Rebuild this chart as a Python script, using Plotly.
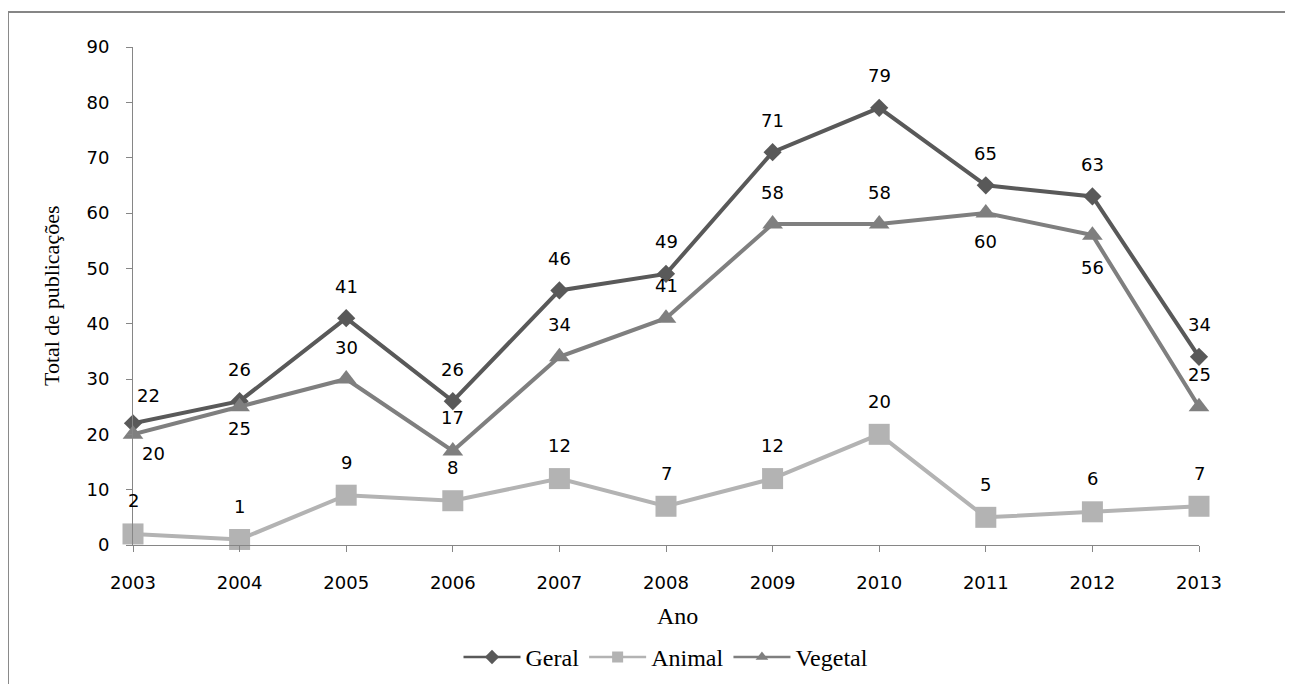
import plotly.graph_objects as go

years = [2003, 2004, 2005, 2006, 2007, 2008, 2009, 2010, 2011, 2012, 2013]
geral = [22, 26, 41, 26, 46, 49, 71, 79, 65, 63, 34]
animal = [2, 1, 9, 8, 12, 7, 12, 20, 5, 6, 7]
vegetal = [20, 25, 30, 17, 34, 41, 58, 58, 60, 56, 25]
y_ticks = [0, 10, 20, 30, 40, 50, 60, 70, 80, 90]

SANS = "DejaVu Sans"
SERIF = "Liberation Serif"

series = [
    ("Geral", geral, "#595959", "diamond", 14),
    ("Animal", animal, "#b3b3b3", "square", 21),
    ("Vegetal", vegetal, "#7f7f7f", "triangle-up", 18),
]

fig = go.Figure()
for name, vals, col, sym, sz in series:
    fig.add_trace(go.Scatter(
        x=years, y=vals, mode="lines+markers", name=name,
        line=dict(color=col, width=4),
        marker=dict(symbol=sym, size=sz, color=col),
        cliponaxis=False, showlegend=False, hoverinfo="x+y+name"))
# legend-only entries with smaller markers
for name, vals, col, sym, sz in series:
    fig.add_trace(go.Scatter(
        x=[None], y=[None], mode="lines+markers", name=name,
        line=dict(color=col, width=2.5),
        marker=dict(symbol=sym, size=11, color=col),
        showlegend=True))

# label placement (pixel offsets): above / below, per point
geral_shift = [(15, 28)] + [(0, 32)] * 10
animal_shift = [(0, 33)] * 11
vegetal_shift = [(20, -19), (0, -22), (0, 32), (0, 33), (0, 32), (0, 33),
                 (0, 32), (0, 32), (0, -28), (0, -32), (0, 32)]

annotations = []
for vals, shifts in [(geral, geral_shift), (animal, animal_shift), (vegetal, vegetal_shift)]:
    for xv, yv, (dx, dy) in zip(years, vals, shifts):
        annotations.append(dict(
            x=xv, y=yv, xref="x", yref="y", text=str(yv), showarrow=False,
            xshift=dx, yshift=dy, font=dict(family=SANS, size=18, color="#000000")))

annotations.append(dict(x=0.5, y=-0.1434, xref="paper", yref="paper", text="Ano",
                        showarrow=False, xshift=11, yanchor="middle",
                        font=dict(family=SERIF, size=24, color="#000000")))
annotations.append(dict(x=-0.0769, y=0.5, xref="paper", yref="paper",
                        text="Total de publicações", textangle=-90, showarrow=False,
                        xanchor="center", yanchor="middle",
                        font=dict(family=SERIF, size=22, color="#000000")))

fig.update_layout(
    width=1293, height=684,
    margin=dict(l=125, r=102, t=39, b=146.5, pad=0, autoexpand=False),
    paper_bgcolor="white", plot_bgcolor="white",
    showlegend=True,
    legend=dict(orientation="h", x=0.5, xanchor="center", y=-0.2257, yanchor="middle",
                font=dict(family=SERIF, size=24, color="#000000"),
                bgcolor="rgba(0,0,0,0)", itemwidth=57, tracegroupgap=0),
    annotations=annotations,
    shapes=[dict(type="rect", xref="paper", yref="paper",
                 x0=-0.1173, x1=1.3, y0=-0.5, y1=1.0702,
                 line=dict(color="#868686", width=2), layer="below")],
)
fig.update_xaxes(
    range=[2003, 2013], tickmode="array", tickvals=years,
    ticktext=[str(y) for y in years], showgrid=False, zeroline=False,
    showline=True, linecolor="#868686", linewidth=1,
    ticks="outside", ticklen=6, tickcolor="#868686", ticklabelstandoff=15,
    tickfont=dict(family=SANS, size=18, color="#000000"))
fig.update_yaxes(
    range=[0, 90], tickmode="array", tickvals=y_ticks, showgrid=False, zeroline=False,
    showline=True, linecolor="#868686", linewidth=1,
    ticks="outside", ticklen=6, tickcolor="#868686", ticklabelstandoff=13,
    tickfont=dict(family=SANS, size=18, color="#000000"))

fig.write_html("out.html")
